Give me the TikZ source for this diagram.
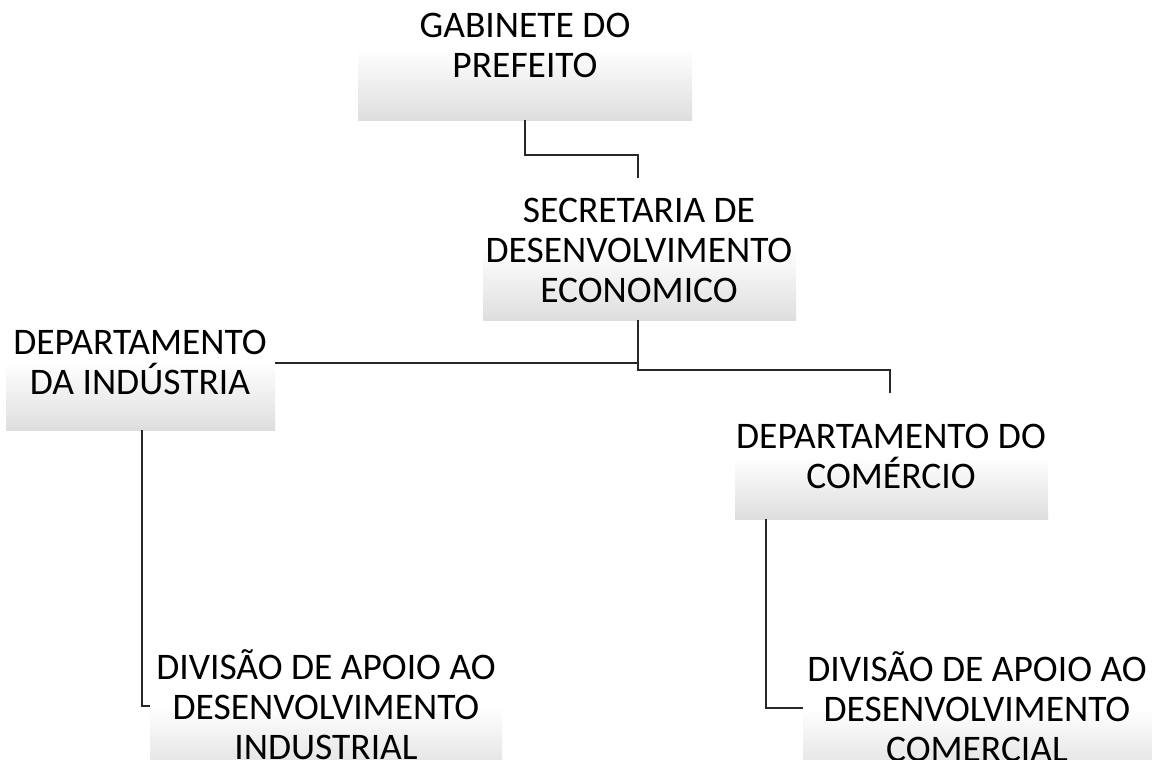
\documentclass[tikz,border=0pt]{standalone}
\usepackage{fontspec}
\setmainfont{Carlito}
\usetikzlibrary{calc}
\definecolor{boxbot}{RGB}{222,222,222}
\definecolor{linecol}{RGB}{40,40,40}
\tikzset{
  x=1pt, y=-1pt,
  gbox/.style={rectangle, inner sep=0pt, outer sep=0pt, top color=white, bottom color=boxbot, draw=none},
  lbl/.style={align=center, inner sep=0pt, font=\fontsize{37.5}{40}\selectfont},
  conn/.style={draw=linecol, line width=1.2pt}
}
\begin{document}
\begin{tikzpicture}
\useasboundingbox (0,0) rectangle (1152,760);
\clip (0,0) rectangle (1152,760);
% boxes
\node[gbox, minimum width=334pt, minimum height=72pt] (b1) at (525,84) {};
\node[gbox, minimum width=313pt, minimum height=72pt] (b2) at (639.5,284) {};
\node[gbox, minimum width=269pt, minimum height=68pt] (b3) at (140.5,396) {};
\node[gbox, minimum width=313pt, minimum height=62pt] (b4) at (891.5,488) {};
\node[gbox, minimum width=352pt, minimum height=72pt] (b5) at (326,742) {};
\node[gbox, minimum width=349pt, minimum height=72pt] (b6) at (977.5,744) {};
% labels
\node[lbl] (t1) at (525,45) {GABINETE DO\\PREFEITO};
\node[lbl] (t2) at (639,250) {SECRETARIA DE\\DESENVOLVIMENTO\\ECONOMICO};
\node[lbl] (t3) at (140,362) {DEPARTAMENTO\\DA INDÚSTRIA};
\node[lbl] (t4) at (891,456) {DEPARTAMENTO DO\\COMÉRCIO};
\node[lbl] (t5) at (326,705) {DIVISÃO DE APOIO AO\\DESENVOLVIMENTO\\INDUSTRIAL};
\node[lbl] (t6) at (977,707) {DIVISÃO DE APOIO AO\\DESENVOLVIMENTO\\COMERCIAL};
% connectors
\coordinate (e1) at (638,178);
\coordinate (j) at (638,363);
\coordinate (e2) at (890,393);
\draw[conn] (b1.south) |- ($(e1)+(0,-23)$) -- (e1);
\draw[conn] (j |- b2.south) -- (j) -- (j -| b3.east);
\draw[conn] (j) -- ++(0,7) -| (e2);
\draw[conn] ([xshift=1.5pt]b3.south) |- (b5.north west);
\draw[conn] ([xshift=31pt]b4.south west) |- (b6.north west);
\end{tikzpicture}
\end{document}
